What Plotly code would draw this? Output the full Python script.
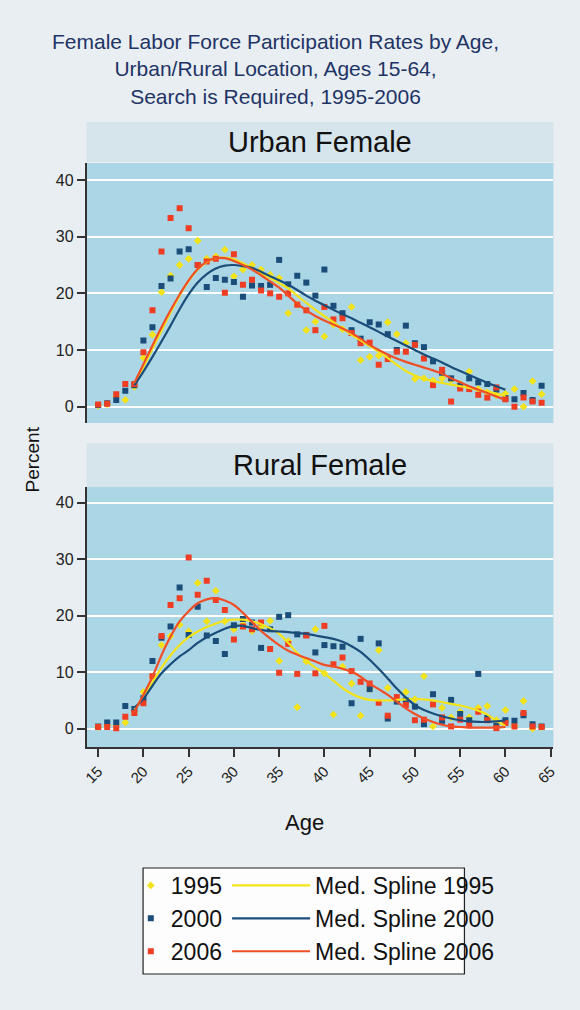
import plotly.graph_objects as go

ages = list(range(15, 65))
spline_ages = list(range(19, 61))

urban_1995 = [0.2, 0.4, 1.8, 1.2, 3.5, 8.6, 12.7, 20.2, 23.1, 25.0,
              26.1, 29.3, 26.1, 26.5, 27.7, 23.0, 24.2, 25.0, 24.2, 23.3,
              22.7, 16.5, 18.0, 13.5, 15.0, 12.4, 14.5, 13.7, 17.6, 8.2,
              8.8, 9.0, 14.9, 12.8, 11.2, 4.9, 5.0, 4.6, 5.0, 4.7,
              4.0, 6.2, 3.1, 2.5, 2.0, 2.3, 3.1, 0.0, 4.5, 2.2]
urban_2000 = [0.3, 0.6, 1.2, 2.8, 3.8, 11.7, 14.0, 21.3, 22.6, 27.4,
              27.8, 25.0, 21.1, 22.7, 22.4, 22.0, 19.4, 21.4, 21.3, 21.5,
              25.9, 21.6, 23.1, 21.9, 19.6, 24.2, 17.8, 16.5, 13.5, 12.0,
              14.9, 14.5, 12.8, 10.0, 14.3, 11.2, 10.5, 8.0, 6.0, 5.0,
              3.7, 5.0, 4.3, 4.0, 3.0, 1.5, 1.3, 2.4, 1.2, 3.7]
urban_2006 = [0.4, 0.5, 2.2, 4.0, 4.0, 9.6, 17.0, 27.4, 33.3, 35.0,
              31.5, 25.0, 25.6, 26.1, 20.1, 26.9, 21.5, 22.4, 20.5, 20.0,
              19.4, 20.0, 18.0, 17.0, 13.5, 17.6, 15.4, 15.6, 13.0, 11.2,
              11.3, 7.4, 8.4, 9.7, 9.7, 10.9, 8.5, 3.8, 6.5, 0.9,
              3.2, 3.1, 2.1, 1.6, 3.4, 1.3, 0.0, 1.6, 0.9, 0.7]

rural_1995 = [0.3, 0.5, 0.6, 1.1, 3.0, 6.5, 9.0, 14.8, 16.4, 18.4,
              17.2, 25.8, 19.0, 24.4, 19.0, 17.6, 18.5, 17.3, 18.0, 19.1,
              12.0, 15.5, 3.8, 11.9, 17.6, 9.8, 2.5, 11.0, 8.0, 2.3,
              7.0, 13.9, 7.2, 5.0, 6.5, 5.2, 9.3, 0.4, 3.7, 2.0,
              3.0, 2.0, 3.7, 4.0, 1.5, 3.3, 0.5, 4.9, 0.0, 0.3]
rural_2000 = [0.4, 1.1, 1.1, 4.0, 3.5, 5.4, 12.0, 16.1, 18.1, 25.0,
              16.6, 21.6, 16.5, 15.5, 13.2, 18.3, 19.4, 18.8, 14.3, 17.6,
              19.8, 20.1, 16.7, 16.6, 13.5, 14.8, 14.6, 14.5, 4.5, 15.9,
              7.0, 15.1, 1.8, 4.8, 5.0, 3.9, 0.8, 6.1, 1.4, 5.1,
              2.6, 1.5, 9.7, 1.9, 0.5, 1.5, 1.4, 2.4, 0.8, 0.4]
rural_2006 = [0.3, 0.3, 0.1, 2.1, 2.8, 4.5, 9.3, 16.4, 21.9, 23.1,
              30.3, 23.7, 26.2, 22.8, 21.0, 15.8, 18.1, 17.6, 18.8, 14.1,
              9.9, 15.0, 9.7, 16.5, 9.8, 18.2, 11.4, 12.6, 10.2, 8.3,
              8.0, 4.6, 2.3, 5.6, 4.2, 1.5, 1.6, 4.3, 2.0, 0.4,
              1.6, 0.6, 3.0, 1.5, 0.1, 1.0, 0.4, 2.8, 0.4, 0.3]

urban_spline_1995 = [4.0, 7.0, 10.2, 13.4, 16.6, 19.6, 22.2, 24.2, 25.5, 26.2,
                     26.3, 26.0, 25.3, 24.4, 23.5, 22.7, 21.8, 20.9, 19.6, 18.3,
                     17.1, 16.0, 14.9, 13.8, 12.7, 11.7, 10.7, 9.7, 8.6, 7.4,
                     6.3, 5.5, 4.9, 4.5, 4.2, 3.9, 3.6, 3.3, 3.0, 2.7,
                     2.3, 1.9]
urban_spline_2000 = [3.8, 6.2, 8.8, 11.5, 14.3, 17.2, 19.8, 21.9, 23.4, 24.4,
                     24.9, 25.0, 24.8, 24.5, 23.8, 23.0, 22.3, 21.5, 20.6, 19.6,
                     18.7, 17.9, 17.1, 16.3, 15.6, 14.8, 14.0, 13.2, 12.4, 11.6,
                     10.8, 10.0, 9.2, 8.5, 7.8, 7.0, 6.3, 5.6, 4.9, 4.2,
                     3.6, 3.0]
urban_spline_2006 = [4.2, 7.5, 10.8, 14.0, 17.0, 19.8, 22.3, 24.3, 25.6, 26.2,
                     26.2, 25.7, 25.0, 24.2, 23.2, 22.1, 21.0, 19.6, 18.2, 17.0,
                     16.0, 15.2, 14.5, 13.8, 13.0, 12.0, 10.9, 10.0, 9.2, 8.5,
                     7.9, 7.4, 6.9, 6.4, 5.8, 5.0, 4.3, 3.6, 3.0, 2.4,
                     1.8, 1.2]

rural_spline_1995 = [3.5, 5.6, 8.2, 10.8, 13.0, 14.8, 16.2, 17.2, 18.0, 18.6,
                     19.1, 19.3, 19.3, 19.0, 18.5, 17.8, 16.8, 15.2, 13.4, 12.0,
                     10.8, 9.8, 8.5, 7.2, 6.2, 5.5, 5.1, 5.0, 5.0, 5.1,
                     5.2, 5.3, 5.2, 5.0, 4.7, 4.4, 4.1, 3.7, 3.2, 2.5,
                     1.4, 0.5]
rural_spline_2000 = [3.7, 5.3, 7.6, 9.8, 11.4, 12.8, 13.9, 15.2, 16.2, 17.0,
                     17.7, 18.2, 18.2, 17.8, 17.5, 17.3, 17.2, 17.1, 16.9, 16.8,
                     16.5, 16.2, 15.9, 15.4, 14.6, 13.6, 12.2, 10.6, 8.9, 7.1,
                     5.5, 4.2, 3.3, 2.7, 2.2, 1.8, 1.5, 1.3, 1.2, 1.2,
                     1.3, 1.5]
rural_spline_2006 = [3.0, 6.0, 9.2, 13.0, 16.3, 19.0, 20.8, 22.2, 22.9, 23.1,
                     22.7, 21.9, 20.5, 18.9, 17.3, 16.0, 14.8, 13.8, 13.1, 12.5,
                     11.9, 11.3, 11.0, 10.6, 10.1, 9.2, 8.0, 7.0, 6.0, 4.8,
                     3.6, 2.6, 1.8, 1.2, 0.7, 0.4, 0.3, 0.2, 0.2, 0.2,
                     0.2, 0.3]

years = ["1995", "2000", "2006"]
x_ticks = [15, 20, 25, 30, 35, 40, 45, 50, 55, 60, 65]
y_ticks = [0, 10, 20, 30, 40]
panel_titles = ["Urban Female", "Rural Female"]

FONT = "Liberation Sans, Arial, Helvetica, sans-serif"
BG = "#e8eef1"
marker_colors = {"1995": "#f2e31b", "2000": "#1b4d7a", "2006": "#ef3d24"}
line_colors = {"1995": "#f2e31b", "2000": "#1b4d7a", "2006": "#f04e26"}
symbols = {"1995": "diamond", "2000": "square", "2006": "square"}
msizes = {"1995": 6, "2000": 6, "2006": 6}

W, H = 580, 1010


def px_x(p):
    return p / W


def px_y(p):
    return 1 - p / H


fig = go.Figure()

panels = [
    ("x", "y", [urban_1995, urban_2000, urban_2006],
     [urban_spline_1995, urban_spline_2000, urban_spline_2006], True),
    ("x2", "y2", [rural_1995, rural_2000, rural_2006],
     [rural_spline_1995, rural_spline_2000, rural_spline_2006], False),
]

for xa, ya, pts, spl, show in panels:
    for yr, vals in zip(years, pts):
        fig.add_trace(go.Scatter(
            x=ages, y=vals, mode="markers", name=yr,
            xaxis=xa, yaxis=ya,
            marker=dict(symbol=symbols[yr], size=msizes[yr],
                        color=marker_colors[yr], line=dict(width=0)),
            legendgroup="p" + yr, showlegend=show, legend="legend",
        ))
for xa, ya, pts, spl, show in panels:
    for yr, vals in zip(years, spl):
        fig.add_trace(go.Scatter(
            x=spline_ages, y=vals, mode="lines", name="Med. Spline " + yr,
            xaxis=xa, yaxis=ya,
            line=dict(color=line_colors[yr], width=2.2, shape="spline", smoothing=1.0),
            legendgroup="s" + yr, showlegend=show, legend="legend2",
        ))

x_dom = [px_x(83), px_x(558)]
axis_common = dict(linecolor="#333333", linewidth=1.5, tickcolor="#333333",
                   tickwidth=1.5, ticklen=8, zeroline=False)

fig.update_layout(
    width=W, height=H,
    margin=dict(l=0, r=0, t=0, b=0),
    paper_bgcolor=BG,
    plot_bgcolor="#abd6e6",
    font=dict(family=FONT, color="#222222"),
    xaxis=dict(domain=x_dom, range=[13.72, 65.3], anchor="y",
               showticklabels=False, ticks="", showline=False, showgrid=False,
               zeroline=False, tickvals=x_ticks),
    yaxis=dict(domain=[px_y(423), px_y(163)], range=[-2.88, 43.0], anchor="x",
               tickvals=y_ticks, ticks="outside", showline=True, showgrid=True,
               gridcolor="white", gridwidth=2, tickfont=dict(size=16),
               **axis_common),
    xaxis2=dict(domain=x_dom, range=[13.72, 65.3], anchor="y2",
                tickvals=x_ticks, ticks="outside", showline=True, showgrid=False,
                tickangle=-45, tickfont=dict(size=15), **axis_common),
    yaxis2=dict(domain=[px_y(747), px_y(487)], range=[-3.24, 42.78], anchor="x2",
                tickvals=y_ticks, ticks="outside", showline=True, showgrid=True,
                gridcolor="white", gridwidth=2, tickfont=dict(size=16),
                **axis_common),
    legend=dict(x=px_x(128), y=px_y(864), xanchor="left", yanchor="top",
                orientation="v", bgcolor="rgba(0,0,0,0)", borderwidth=0,
                font=dict(size=23, color="#111111", family=FONT),
                tracegroupgap=0, itemwidth=30),
    legend2=dict(x=px_x(226), y=px_y(864), xanchor="left", yanchor="top",
                 orientation="v", bgcolor="rgba(0,0,0,0)", borderwidth=0,
                 font=dict(size=23, color="#111111", family=FONT),
                 tracegroupgap=0, itemwidth=78),
    showlegend=True,
)

shapes = []
# strips
for top, bot in [(122, 162), (443, 487)]:
    shapes.append(dict(type="rect", xref="paper", yref="paper",
                       x0=px_x(83), x1=px_x(558), y0=px_y(bot), y1=px_y(top),
                       fillcolor="#d6e4ec", line=dict(width=0), layer="below"))
# legend box
shapes.append(dict(type="rect", xref="paper", yref="paper",
                   x0=px_x(140.5), x1=px_x(467.5), y0=px_y(974), y1=px_y(868),
                   fillcolor="#fdfdfe", line=dict(color="#222222", width=1.2),
                   layer="below"))
fig.update_layout(shapes=shapes)

annotations = [
    dict(text="Female Labor Force Participation Rates by Age,<br>Urban/Rural Location, Ages 15-64,<br>Search is Required, 1995-2006",
         x=px_x(275), y=px_y(69), xref="paper", yref="paper",
         xanchor="center", yanchor="middle", showarrow=False,
         font=dict(size=21, color="#1f3466", family=FONT)),
    dict(text=panel_titles[0], x=px_x(321), y=px_y(142), xref="paper", yref="paper",
         xanchor="center", yanchor="middle", showarrow=False,
         font=dict(size=29, color="#111111", family=FONT)),
    dict(text=panel_titles[1], x=px_x(321), y=px_y(465), xref="paper", yref="paper",
         xanchor="center", yanchor="middle", showarrow=False,
         font=dict(size=29, color="#111111", family=FONT)),
    dict(text="Percent", x=px_x(28), y=px_y(460), xref="paper", yref="paper",
         xanchor="center", yanchor="middle", showarrow=False, textangle=-90,
         font=dict(size=19, color="#111111", family=FONT)),
    dict(text="Age", x=px_x(305), y=px_y(822), xref="paper", yref="paper",
         xanchor="center", yanchor="middle", showarrow=False,
         font=dict(size=22, color="#111111", family=FONT)),
]
fig.update_layout(annotations=annotations)

fig.write_html(
    "out.html",
    config={"displayModeBar": False},
    post_script="document.body.style.margin='0px';document.body.style.background='" + BG + "';",
)
